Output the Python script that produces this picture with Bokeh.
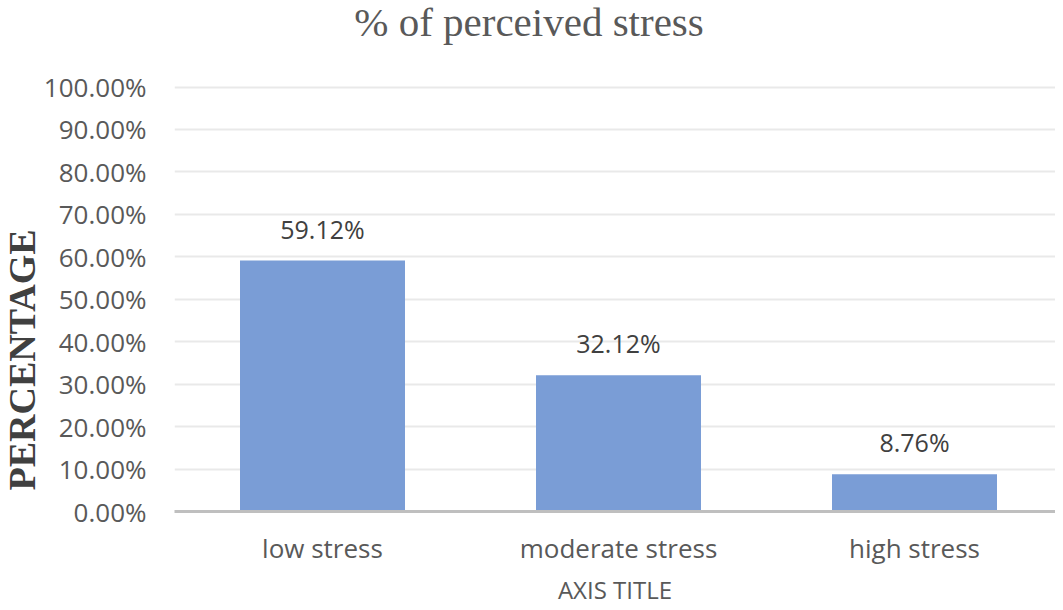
from bokeh.plotting import figure
from bokeh.models import Range1d, FixedTicker, NumeralTickFormatter, ColumnDataSource, LabelSet, Title
from bokeh.core.properties import value
from bokeh.embed import file_html
from bokeh.resources import INLINE

# ---- data ----
categories = ["low stress", "moderate stress", "high stress"]
values = [0.5912, 0.3212, 0.0876]
value_labels = ["59.12%", "32.12%", "8.76%"]
y_ticks = [0.0, 0.1, 0.2, 0.3, 0.4, 0.5, 0.6, 0.7, 0.8, 0.9, 1.0]
chart_title = "% of perceived stress"
y_title = "PERCENTAGE"
x_title = "AXIS TITLE"

# ---- layout constants ----
LEFT = 174
AXIS_Y = 511            # pixel row of the 0% line
FRAME_W = 1055 - LEFT
FRAME_H = AXIS_Y        # frame reaches the top of the canvas
BOTTOM = 602 - FRAME_H
PX_X = 296.0            # pixels per category
PX_Y = 424.5            # pixels per 1.0 (100%)

xs = list(range(len(categories)))
source = ColumnDataSource(dict(x=xs, top=values, label=value_labels))

p = figure(frame_width=FRAME_W, frame_height=FRAME_H,
           x_range=Range1d(-0.5, -0.5 + FRAME_W / PX_X),
           y_range=Range1d(0, FRAME_H / PX_Y),
           output_backend="svg", toolbar_location=None,
           min_border_left=LEFT, min_border_right=0,
           min_border_top=0, min_border_bottom=BOTTOM)

p.vbar(x="x", top="top", width=165 / PX_X, source=source,
       fill_color="#7a9dd6", line_color=None)

p.add_layout(LabelSet(x="x", y="top", text="label", source=source,
                      text_align="center", text_baseline="alphabetic",
                      y_offset=22, text_font=value("Open Sans"),
                      text_font_size="25px", text_color="#404040"))

# chart title, drawn as text in the (tall) frame above the 100% line
p.text(x=[-0.5 + (528.5 - LEFT) / PX_X], y=[(AXIS_Y - 21) / PX_Y],
       text=[chart_title], text_align="center", text_baseline="alphabetic",
       text_font=value("Liberation Serif"), text_font_size="41px",
       text_color="#595959")

# axes
p.xaxis.ticker = FixedTicker(ticks=xs)
p.xaxis.major_label_overrides = {i: c for i, c in zip(xs, categories)}
p.xaxis.major_label_text_font = "Open Sans"
p.xaxis.major_label_text_font_size = "26px"
p.xaxis.major_label_text_color = "#595959"
p.xaxis.major_label_standoff = 18
p.xaxis.major_tick_line_color = None
p.xaxis.minor_tick_line_color = None
p.xaxis.axis_line_color = "#bfbfbf"
p.xaxis.axis_line_width = 3
p.xaxis.major_tick_in = 0
p.xaxis.major_tick_out = 0
p.xaxis.axis_label = x_title
p.xaxis.axis_label_text_font = "Open Sans"
p.xaxis.axis_label_text_font_style = "normal"
p.xaxis.axis_label_text_font_size = "24px"
p.xaxis.axis_label_text_color = "#595959"
p.xaxis.axis_label_standoff = 4

p.yaxis.ticker = FixedTicker(ticks=y_ticks)
p.yaxis.formatter = NumeralTickFormatter(format="0.00%")
p.yaxis.major_label_text_font = "Open Sans"
p.yaxis.major_label_text_font_size = "26px"
p.yaxis.major_label_text_color = "#595959"
p.yaxis.major_label_standoff = 28
p.yaxis.major_tick_line_color = None
p.yaxis.minor_tick_line_color = None
p.yaxis.major_tick_in = 0
p.yaxis.major_tick_out = 0
p.yaxis.axis_line_color = None

p.xgrid.grid_line_color = None
p.ygrid.grid_line_color = "#e9e9e9"
p.ygrid.grid_line_width = 2
p.outline_line_color = None

# vertical y title on the left side
p.add_layout(Title(text=y_title, align="left", offset=AXIS_Y - 490,
                   text_font="Liberation Serif", text_font_style="bold",
                   text_font_size="38px", text_color="#404040", standoff=-4),
             "left")

open("out.html", "w").write(file_html(p, INLINE))
